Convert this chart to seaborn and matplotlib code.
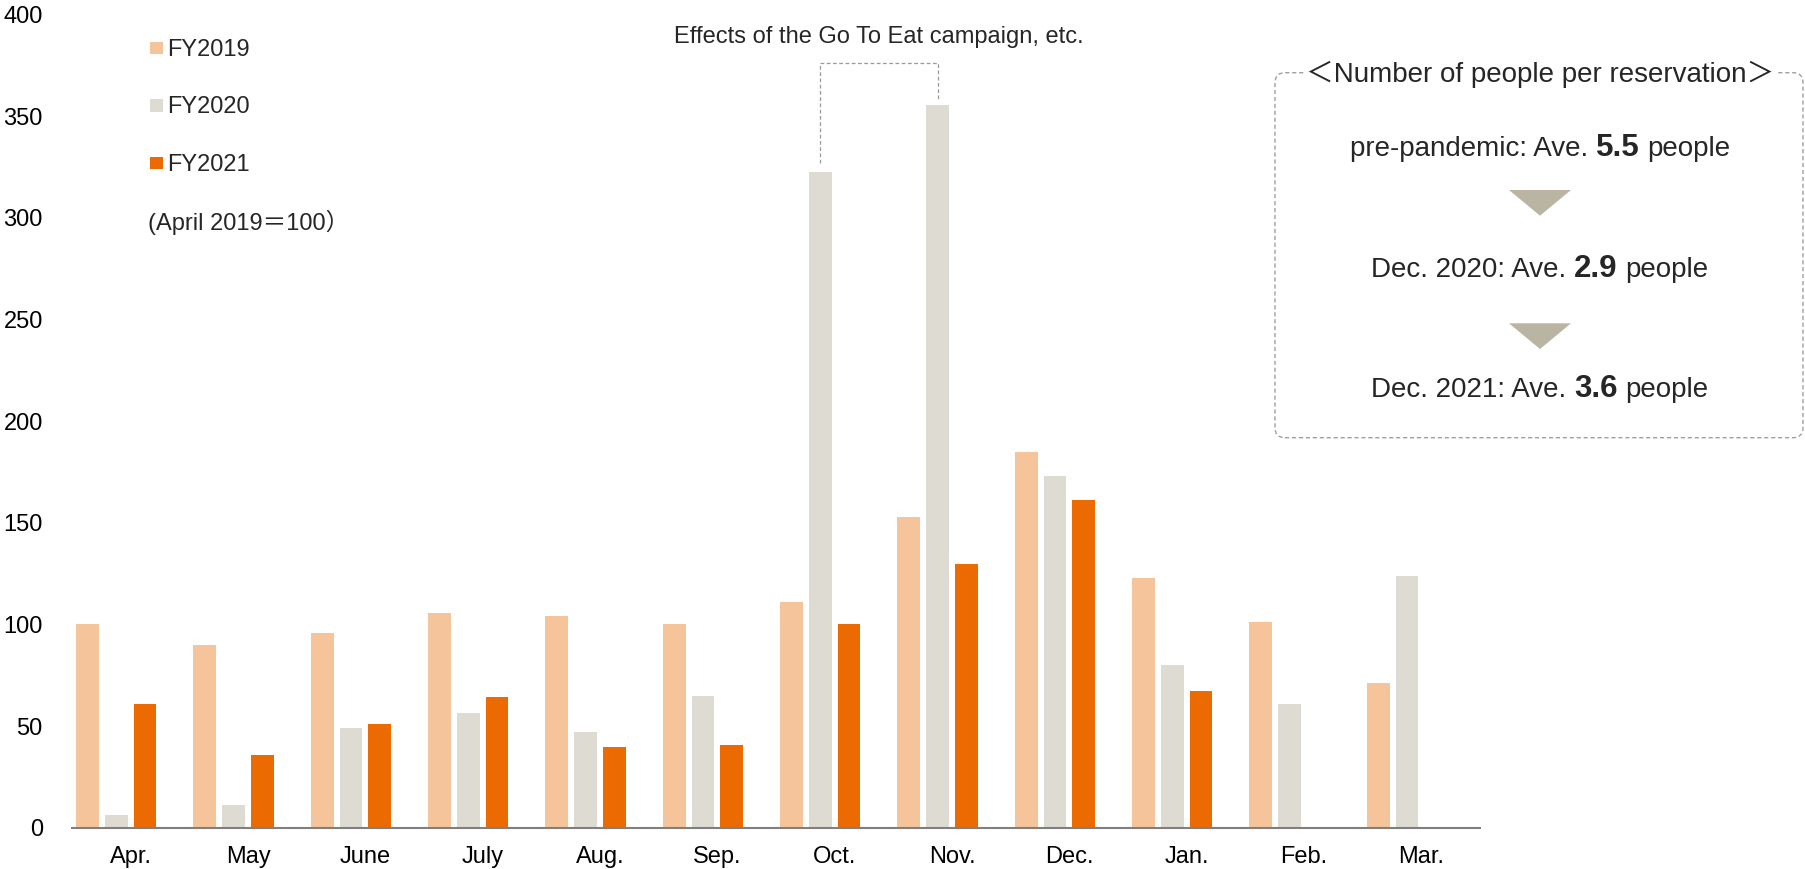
import numpy as np
import pandas as pd
import matplotlib
matplotlib.use("Agg")
import matplotlib.pyplot as plt
from matplotlib.patches import FancyBboxPatch, Polygon, Rectangle
from matplotlib.transforms import IdentityTransform
import seaborn as sns

# ---- data -------------------------------------------------------------
months = ["Apr.", "May", "June", "July", "Aug.", "Sep.",
          "Oct.", "Nov.", "Dec.", "Jan.", "Feb.", "Mar."]
series = ["FY2019", "FY2020", "FY2021"]
fy2019 = [100, 89.7, 95.9, 105.7, 104.3, 100, 111, 152.8, 184.9, 122.6, 101.2, 71.3]
fy2020 = [6.2, 11, 49, 56.2, 47.1, 64.8, 322.5, 355.6, 173, 79.9, 60.7, 123.6]
fy2021 = [60.8, 35.9, 51, 64.1, 39.9, 40.7, 100, 129.7, 161.1, 67.1, np.nan, np.nan]
yticks = [0, 50, 100, 150, 200, 250, 300, 350, 400]

colors = {"FY2019": "#F6C49B", "FY2020": "#DEDBD2", "FY2021": "#EB6A02"}
base_note = "(April 2019＝100）"
campaign_note = "Effects of the Go To Eat campaign, etc."
box_title = "＜Number of people per reservation＞"
reservation_rows = [("pre-pandemic: Ave.", "5.5", "people"),
                    ("Dec. 2020: Ave.", "2.9", "people"),
                    ("Dec. 2021: Ave.", "3.6", "people")]

# ---- style --------------------------------------------------------------
sns.set_style("white")
plt.rcParams["font.family"] = ["Liberation Sans", "Noto Sans CJK JP", "DejaVu Sans"]

W, H = 1805, 869
fig = plt.figure(figsize=(W / 100, H / 100), dpi=100)
ax = fig.add_axes([72 / W, 1 - 827.7 / H, (1480 - 72) / W, (827.7 - 14.4) / H])
ident = IdentityTransform()


def pix(x, y):
    """top-left based pixel position -> display coordinates"""
    return x, H - y


df = pd.DataFrame({
    "month": months * 3,
    "series": np.repeat(series, len(months)),
    "value": fy2019 + fy2020 + fy2021,
}).dropna()

# a fourth, empty hue slot keeps each month's group left of its tick
pad_slot = "_empty"
palette = dict(colors)
palette[pad_slot] = "#FFFFFF"

sns.barplot(data=df, x="month", y="value", hue="series", order=months,
            hue_order=series + [pad_slot], palette=palette, saturation=1,
            width=0.978, gap=0.2, errorbar=None, legend=False,
            linewidth=0, ax=ax)

ax.set_xlim(-0.5, len(months) - 0.5)
ax.set_ylim(0, 400)
ax.set_yticks(yticks)
ax.set_xlabel("")
ax.set_ylabel("")
for side in ["left", "right", "top"]:
    ax.spines[side].set_visible(False)
ax.spines["bottom"].set_color("#7F7F7F")
ax.spines["bottom"].set_linewidth(1.5)
ax.tick_params(axis="x", length=0, pad=13, labelsize=17, colors="black")
ax.tick_params(axis="y", length=0, pad=21, labelsize=17, colors="black")
ax.grid(False)

# ---- Go To Eat bracket ---------------------------------------------------
def bar_center(value):
    for p in ax.patches:
        if np.isclose(p.get_height(), value):
            return p.get_x() + p.get_width() / 2


x_oct = bar_center(fy2020[6])
x_nov = bar_center(fy2020[7])
ax.plot([x_oct, x_oct, x_nov, x_nov], [fy2020[6] + 4.5, 376, 376, fy2020[7] + 3],
        color="#9A9A9A", lw=0.9, ls=(0, (3, 2)), clip_on=False)
ax.text((x_oct + x_nov) / 2, 389, campaign_note, ha="center", va="center",
        fontsize=17)

# ---- legend -------------------------------------------------------------
legend_baselines = [56, 113.3, 170.7]
for name, base in zip(series, legend_baselines):
    x0, y0 = pix(150, base - 1.7)
    fig.add_artist(Rectangle((x0, y0), 12.7, 12.3, transform=ident,
                             facecolor=colors[name], edgecolor="none"))
    fig.text(*pix(167.5, base), name, transform=ident, fontsize=17,
             va="baseline", ha="left")
fig.text(*pix(148, 230), base_note, transform=ident, fontsize=17,
         va="baseline", ha="left")

# ---- reservation box ----------------------------------------------------
bx0, by0, bx1, by1 = 1275, 72.7, 1803, 437.7
fig.add_artist(FancyBboxPatch(pix(bx0, by1), bx1 - bx0, by1 - by0,
                              boxstyle="round,pad=0,rounding_size=10",
                              transform=ident, facecolor="none",
                              edgecolor="#A0A0A0", lw=1.0, ls=(0, (3, 2))))
cx = 1540
fig.text(*pix(cx, 81.7), box_title, transform=ident, fontsize=20,
         ha="center", va="baseline",
         bbox=dict(facecolor="white", edgecolor="none", pad=1))

renderer = fig.canvas.get_renderer()
row_baselines = [156, 276.7, 396.7]
space = 20 * 0.278 * 100 / 72
for (pre, num, post), base in zip(reservation_rows, row_baselines):
    parts = [
        fig.text(0, 0, pre, transform=ident, fontsize=20, va="baseline"),
        fig.text(0, 0, num, transform=ident, fontsize=22.5, fontweight="bold",
                 va="baseline"),
        fig.text(0, 0, post, transform=ident, fontsize=20, va="baseline"),
    ]
    widths = [p.get_window_extent(renderer).width for p in parts]
    total = sum(widths) + 2 * space
    x = cx - total / 2
    for p, w in zip(parts, widths):
        p.set_position(pix(x, base))
        x += w + space

for top in [190, 323.3]:
    fig.add_artist(Polygon([pix(1509, top), pix(1571, top), pix(1540, top + 25.7)],
                           closed=True, transform=ident,
                           facecolor="#BAB5A2", edgecolor="none"))

fig.savefig("out.png", dpi=100)
